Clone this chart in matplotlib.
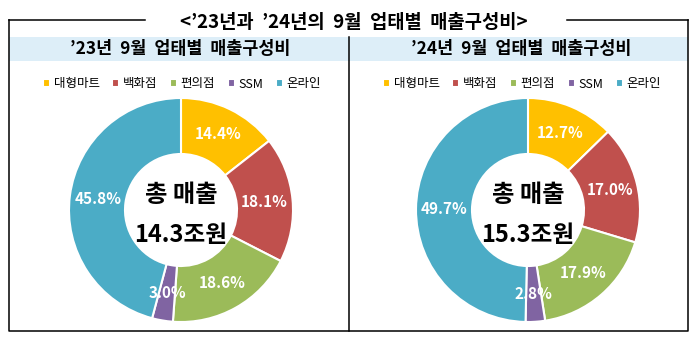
import numpy as np
import matplotlib
matplotlib.use('Agg')
import matplotlib.pyplot as plt
from matplotlib.patches import Rectangle
from matplotlib.lines import Line2D

plt.rcParams['font.family'] = ['Noto Sans CJK KR', 'DejaVu Sans']

# Sales share by retail channel, September
channels = ['대형마트', '백화점', '편의점', 'SSM', '온라인']
share_23 = [14.4, 18.1, 18.6, 3.0, 45.8]
share_24 = [12.7, 17.0, 17.9, 2.8, 49.7]
total_23 = '14.3조원'
total_24 = '15.3조원'
colors = ['#FFC000', '#C0504D', '#9BBB59', '#8064A2', '#4BACC6']

main_title = '<\u201923년과  \u201924년의  9월  업태별  매출구성비>'
panel_titles = ['\u201923년  9월  업태별  매출구성비', '\u201924년  9월  업태별  매출구성비']

W, H = 697, 342
fig = plt.figure(figsize=(W / 100, H / 100), dpi=100)
fig.patch.set_facecolor('white')

# background axes in pixel units for the frame and header bands
bg = fig.add_axes([0, 0, 1, 1])
bg.set_xlim(0, W)
bg.set_ylim(H, 0)
bg.axis('off')

left, right, top, bottom, mid = 9, 688, 20, 331, 349
bg.add_patch(Rectangle((left, 37), right - left, 24, facecolor='#DDEEF8', edgecolor='none'))
lw = 1.1
bg.add_line(Line2D([left, left, right, right], [top, bottom, bottom, top], color='black', lw=lw))
bg.add_line(Line2D([left, 145], [top, top], color='black', lw=lw))
bg.add_line(Line2D([567, right], [top, top], color='black', lw=lw))
bg.add_line(Line2D([mid, mid], [37, bottom], color='black', lw=lw))

bg.text(354, 22, main_title, ha='center', va='center', fontsize=13.5, fontweight='bold')
bg.text(180, 48.5, panel_titles[0], ha='center', va='center', fontsize=12.5, fontweight='bold')
bg.text(521, 48.5, panel_titles[1], ha='center', va='center', fontsize=12.5, fontweight='bold')


def donut(cx, cy, values, total, legend_x):
    r = 112
    ax = fig.add_axes([(cx - r) / W, (H - cy - r) / H, 2 * r / W, 2 * r / H])
    wedges, _ = ax.pie(values, colors=colors, startangle=90, counterclock=False,
                       radius=1.0,
                       wedgeprops=dict(width=0.5, edgecolor='white', linewidth=1.5))
    ax.set_xlim(-1, 1)
    ax.set_ylim(-1, 1)
    ax.set_aspect('equal')
    ax.axis('off')

    # percentage labels at the middle of the ring
    frac = np.array(values) / np.sum(values)
    start = 90.0
    for v, f in zip(values, frac):
        ang = np.deg2rad(start - f * 180)
        start -= f * 360
        ax.text(0.75 * np.cos(ang), 0.75 * np.sin(ang), f'{v:.1f}%',
                ha='center', va='center', color='white', fontsize=11, fontweight='bold')

    ax.text(0, 0.13, '총 매출', ha='center', va='center', fontsize=17.5, fontweight='bold')
    ax.text(0, -0.22, total, ha='center', va='center', fontsize=17, fontweight='bold')

    fig.legend(wedges, channels, loc='center', bbox_to_anchor=(legend_x / W, 1 - 84 / H),
               ncol=5, frameon=False, fontsize=9, handlelength=0.55, handleheight=0.55,
               handletextpad=0.3, columnspacing=1.0, borderpad=0)


donut(181, 210, share_23, total_23, 182)
donut(528, 210, share_24, total_24, 522)

fig.savefig('out.png', dpi=100)
